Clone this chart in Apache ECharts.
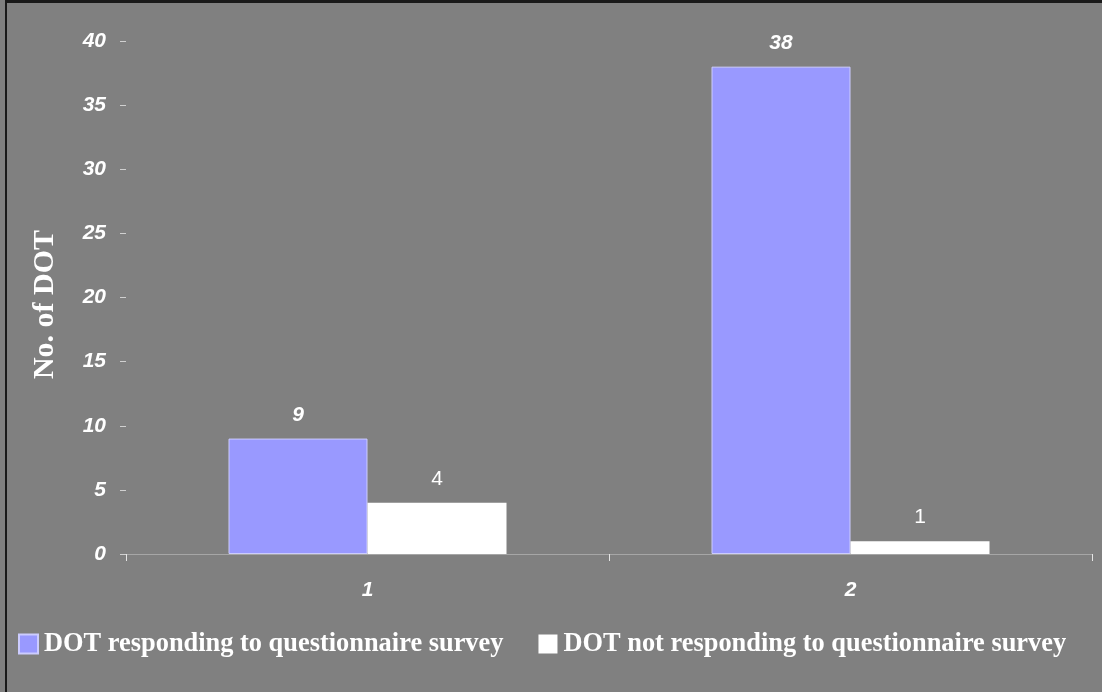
<!DOCTYPE html>
<html>
<head>
<meta charset="utf-8">
<style>
  html, body { margin: 0; padding: 0; background: #808080; }
  #chart { width: 1102px; height: 692px; }
</style>
<script src="https://cdn.jsdelivr.net/npm/echarts@6/dist/echarts.min.js"></script>
</head>
<body>
<div id="chart"></div>
<script>
// Survey response counts per group
const categories = ['1', '2'];
const responding = [9, 38];
const notResponding = [4, 1];
const seriesNames = [
  'DOT responding to questionnaire survey',
  'DOT not responding to questionnaire survey'
];
const yTicks = { min: 0, max: 40, interval: 5 };
const yTitle = 'No. of DOT';

const chart = echarts.init(document.getElementById('chart'), null, { renderer: 'canvas' });

const boldItalic = {
  color: '#ffffff',
  fontFamily: 'Liberation Sans, Arial, sans-serif',
  fontWeight: 'bold',
  fontStyle: 'italic',
  fontSize: 21
};

chart.setOption({
  backgroundColor: '#808080',
  animation: false,
  graphic: [
    { type: 'rect', shape: { x: 5, y: 0, width: 2, height: 692 }, style: { fill: '#1a1a1a' }, z: 100 },
    { type: 'rect', shape: { x: 5, y: 0, width: 1097, height: 3 }, style: { fill: '#1a1a1a' }, z: 100 }
  ],
  grid: { left: 126, right: 10, top: 41, bottom: 138 },
  legend: {
    left: 13,
    top: 626,
    itemWidth: 19,
    itemHeight: 19,
    itemGap: 35,
    icon: 'rect',
    textStyle: {
      color: '#ffffff',
      fontFamily: 'Liberation Serif, Times New Roman, serif',
      fontWeight: 'bold',
      fontSize: 26.4,
      padding: [0, 0, 0, 1]
    },
    data: seriesNames
  },
  xAxis: {
    type: 'category',
    data: categories,
    axisLine: { lineStyle: { color: '#a6a6a6', width: 1 } },
    axisTick: { show: true, length: 7, lineStyle: { color: '#e6e6e6' } },
    axisLabel: Object.assign({ margin: 26 }, boldItalic)
  },
  yAxis: {
    type: 'value',
    min: yTicks.min,
    max: yTicks.max,
    interval: yTicks.interval,
    name: yTitle,
    nameLocation: 'middle',
    nameGap: 66,
    nameTextStyle: {
      color: '#ffffff',
      fontFamily: 'Liberation Serif, Times New Roman, serif',
      fontWeight: 'bold',
      fontSize: 30,
      padding: [0, 14, 0, 0]
    },
    splitLine: { show: false },
    axisLine: { show: false },
    axisTick: { show: true, length: 6, lineStyle: { color: '#d0d0d0' } },
    axisLabel: Object.assign({ margin: 20 }, boldItalic)
  },
  series: [
    {
      name: seriesNames[0],
      type: 'bar',
      data: responding,
      barWidth: 139,
      barGap: '0%',
      itemStyle: { color: '#9999ff', borderColor: '#ccccff', borderWidth: 1 },
      label: Object.assign({ show: true, position: 'top', distance: 13 }, boldItalic)
    },
    {
      name: seriesNames[1],
      type: 'bar',
      data: notResponding,
      barWidth: 139,
      barGap: '0%',
      itemStyle: { color: '#ffffff' },
      label: {
        show: true, position: 'top', distance: 13,
        color: '#ffffff', fontFamily: 'Liberation Sans, Arial, sans-serif', fontSize: 21
      }
    }
  ]
});
</script>
</body>
</html>
